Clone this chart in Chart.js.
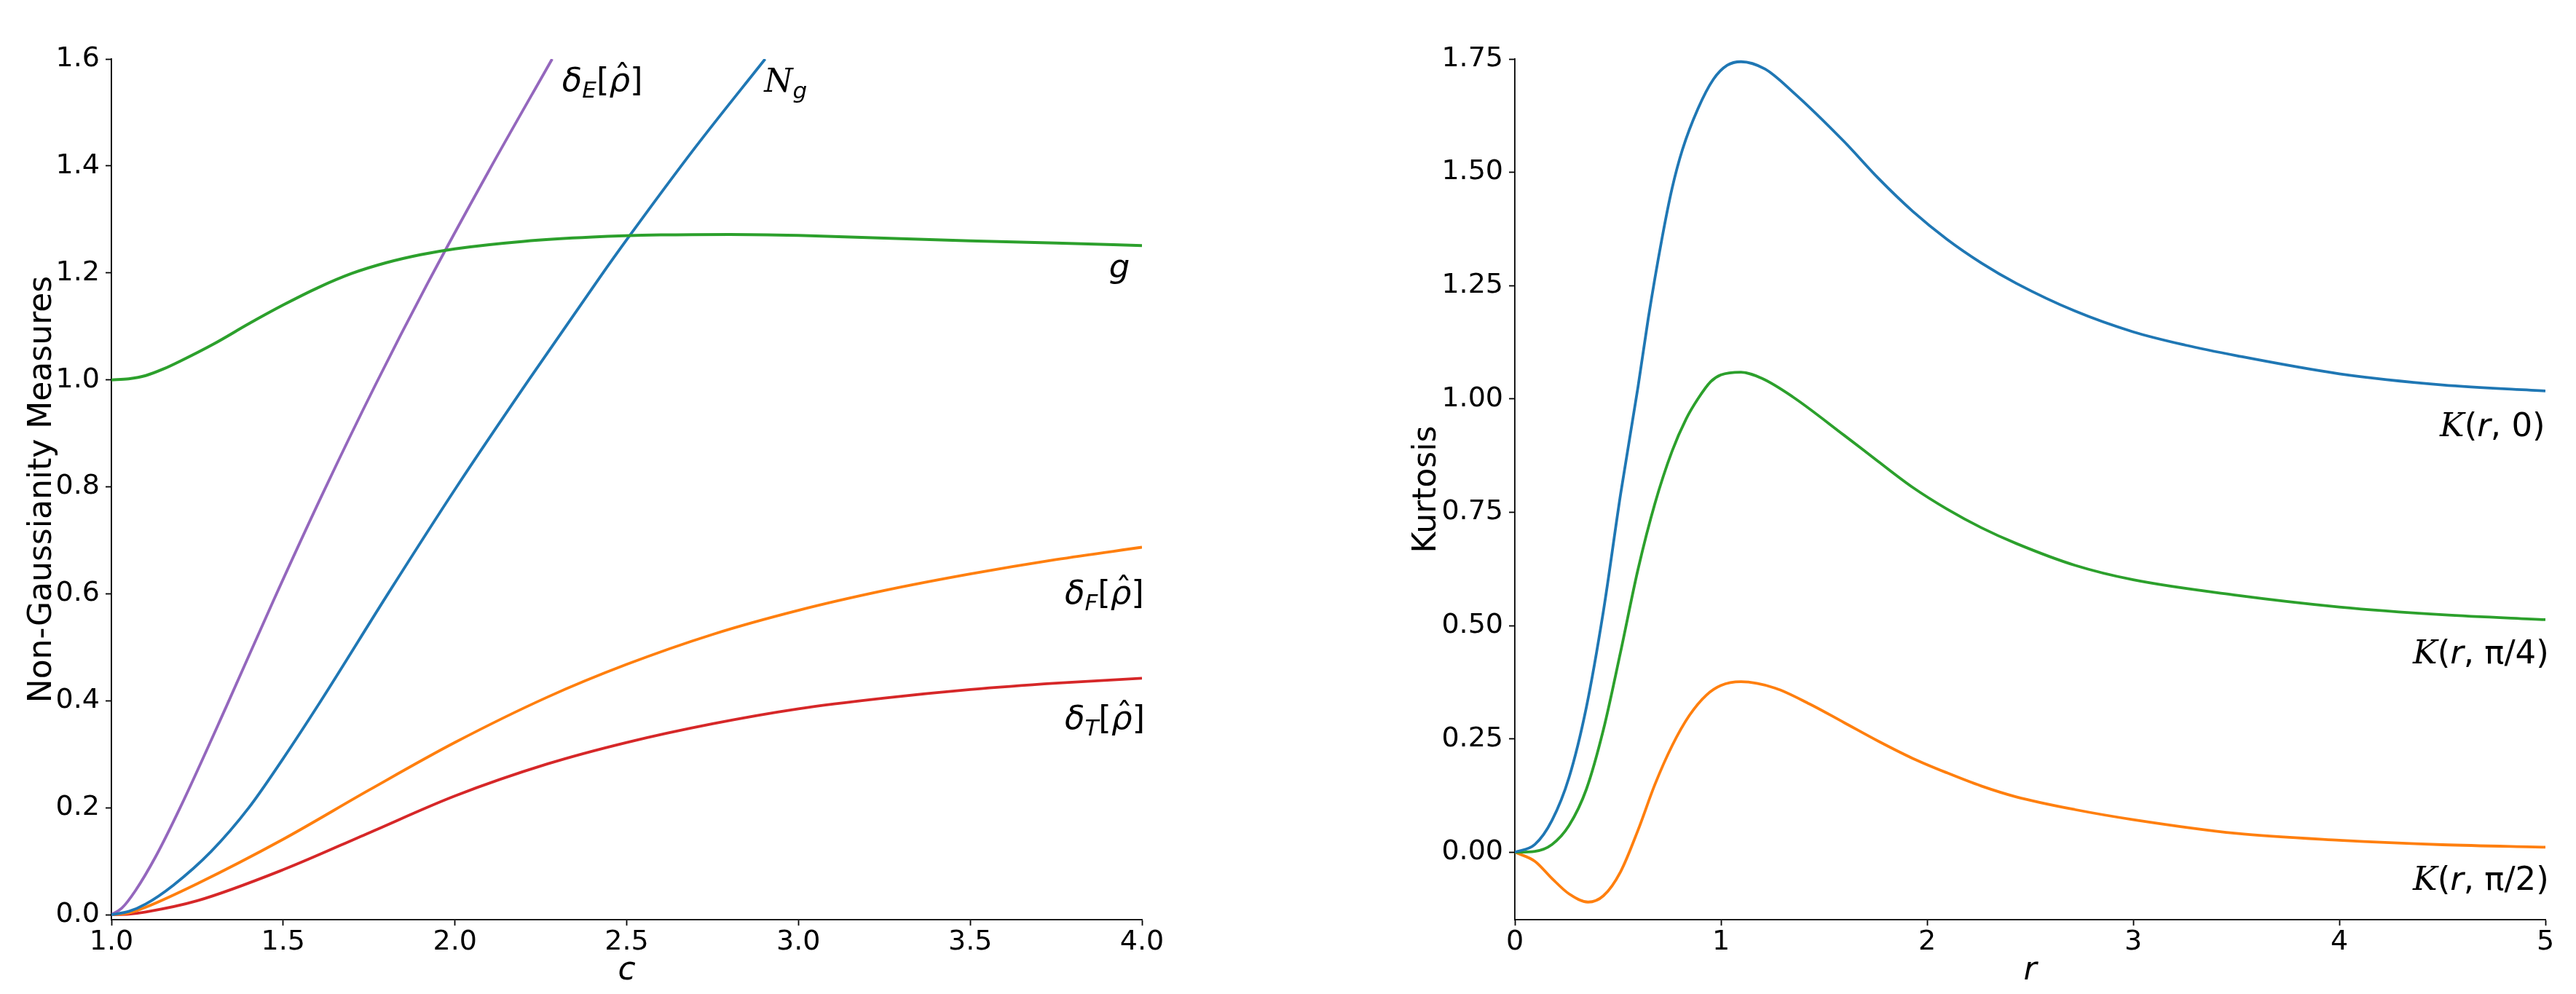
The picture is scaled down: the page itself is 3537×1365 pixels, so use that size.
<!DOCTYPE html>
<html>
<head>
<meta charset="utf-8">
<title>Non-Gaussianity measures and kurtosis</title>
<script src="https://cdn.jsdelivr.net/npm/chart.js@4.4.1/dist/chart.umd.min.js"></script>
<style>
  html, body { margin: 0; padding: 0; background: #fff; overflow: hidden; }
  .panel { position: absolute; top: 0; height: 1365px; }
  #left { left: 0; width: 1768px; }
  #right { left: 1768px; width: 1769px; }
</style>
</head>
<body>
<div class="panel" id="left"><canvas id="measuresChart"></canvas></div>
<div class="panel" id="right"><canvas id="kurtosisChart"></canvas></div>
<script>
// ===========================
// Data
// ===========================

// left panel: measures vs c
const C_TICKS = [1.0, 1.5, 2.0, 2.5, 3.0, 3.5, 4.0];
const M_TICKS = [0.0, 0.2, 0.4, 0.6, 0.8, 1.0, 1.2, 1.4, 1.6];

const deltaE_c = [1.0, 1.03, 1.07, 1.13, 1.2, 1.335, 1.47, 1.617, 1.768, 1.92, 2.098, 2.283];
const deltaE_v = [0, 0.012, 0.045, 0.11, 0.2, 0.39, 0.585, 0.79, 0.99, 1.18, 1.39, 1.6];

const ng_c = [1.0, 1.05, 1.1, 1.18, 1.29, 1.40, 1.5, 1.61, 1.805, 2.005, 2.215, 2.42, 2.5, 2.7, 2.903];
const ng_v = [0, 0.006, 0.02, 0.055, 0.118, 0.2, 0.292, 0.4, 0.6, 0.8, 1.0, 1.19, 1.262, 1.435, 1.6];

const g_c = [1.0, 1.05, 1.1, 1.15, 1.2, 1.3, 1.4, 1.5, 1.6, 1.7, 1.8, 1.9, 2.0, 2.2, 2.4, 2.6, 2.8, 3.0, 3.2, 3.5, 3.75, 4.0];
const g_v = [1.0, 1.002, 1.008, 1.02, 1.035, 1.068, 1.105, 1.140, 1.172, 1.199, 1.219, 1.234, 1.245, 1.259, 1.267, 1.271, 1.272, 1.270, 1.266, 1.260, 1.256, 1.251];

const deltaF_c = [1.0, 1.05, 1.1, 1.25, 1.5, 1.75, 2.0, 2.27, 2.5, 2.75, 3.0, 3.25, 3.5, 3.75, 4.0];
const deltaF_v = [0, 0.003, 0.014, 0.058, 0.141, 0.233, 0.322, 0.407, 0.468, 0.524, 0.569, 0.606, 0.637, 0.664, 0.687];

const deltaT_c = [1.0, 1.05, 1.1, 1.25, 1.5, 1.75, 2.0, 2.27, 2.5, 2.75, 3.0, 3.25, 3.5, 3.75, 4.0];
const deltaT_v = [0, 0.001, 0.005, 0.026, 0.084, 0.153, 0.222, 0.282, 0.322, 0.357, 0.385, 0.405, 0.421, 0.433, 0.442];

// right panel: kurtosis vs r
const R_TICKS = [0, 1, 2, 3, 4, 5];
const K_TICKS = [0.0, 0.25, 0.5, 0.75, 1.0, 1.25, 1.5, 1.75];

const k0_r = [0, 0.097, 0.18, 0.263, 0.347, 0.43, 0.513, 0.597, 0.647, 0.713, 0.763, 0.813, 0.888, 0.963, 1.03, 1.097, 1.213, 1.347, 1.597, 1.763, 1.93, 2.097, 2.263, 2.433, 2.717, 3.0, 3.25, 3.5, 4.0, 4.5, 5.0];
const k0_v = [0, 0.017, 0.07, 0.165, 0.32, 0.533, 0.79, 1.025, 1.177, 1.352, 1.465, 1.55, 1.64, 1.705, 1.736, 1.744, 1.728, 1.678, 1.568, 1.487, 1.414, 1.352, 1.3, 1.255, 1.194, 1.148, 1.119, 1.0955, 1.0555, 1.031, 1.0176];

const k4_r = [0, 0.097, 0.18, 0.263, 0.347, 0.43, 0.513, 0.597, 0.68, 0.763, 0.83, 0.888, 0.95, 1.0, 1.097, 1.2, 1.347, 1.597, 1.763, 1.93, 2.097, 2.263, 2.433, 2.717, 3.0, 3.5, 4.0, 4.5, 5.0];
const k4_v = [0, 0.002, 0.017, 0.059, 0.139, 0.271, 0.442, 0.623, 0.77, 0.885, 0.955, 1.0, 1.038, 1.053, 1.059, 1.045, 1.005, 0.92, 0.862, 0.805, 0.757, 0.716, 0.681, 0.633, 0.601, 0.567, 0.541, 0.524, 0.513];

const k2_r = [0, 0.097, 0.18, 0.263, 0.355, 0.43, 0.513, 0.597, 0.68, 0.763, 0.847, 0.93, 1.0, 1.097, 1.263, 1.43, 1.597, 1.763, 1.93, 2.097, 2.263, 2.433, 2.717, 3.0, 3.5, 4.0, 4.5, 5.0];
const k2_v = [0, -0.02, -0.058, -0.092, -0.11, -0.096, -0.043, 0.048, 0.15, 0.235, 0.302, 0.347, 0.368, 0.376, 0.362, 0.327, 0.286, 0.245, 0.207, 0.175, 0.146, 0.122, 0.094, 0.0718, 0.0415, 0.0264, 0.0165, 0.0112];

// line labels, anchored (left, baseline) at data coordinates
const LEFT_LABELS = [
    { at: [2.312, 1.54], parts: [{ t: 'δ', it: true }, { t: 'E', it: true, sub: true }, { t: '[' }, { t: 'ρ', it: true, hat: true }, { t: ']' }] },
    { at: [2.90, 1.539], parts: [{ t: 'N', cal: true }, { t: 'g', it: true, sub: true }] },
    { at: [3.904, 1.192], parts: [{ t: 'g', it: true }] },
    { at: [3.775, 0.581], parts: [{ t: 'δ', it: true }, { t: 'F', it: true, sub: true }, { t: '[' }, { t: 'ρ', it: true, hat: true }, { t: ']' }] },
    { at: [3.775, 0.347], parts: [{ t: 'δ', it: true }, { t: 'T', it: true, sub: true }, { t: '[' }, { t: 'ρ', it: true, hat: true }, { t: ']' }] },
];
const RIGHT_LABELS = [
    { at: [4.488, 0.918], parts: [{ t: 'K', cal: true }, { t: '(' }, { t: 'r', it: true }, { t: ', 0)' }] },
    { at: [4.357, 0.416], parts: [{ t: 'K', cal: true }, { t: '(' }, { t: 'r', it: true }, { t: ', π/4)' }] },
    { at: [4.357, -0.083], parts: [{ t: 'K', cal: true }, { t: '(' }, { t: 'r', it: true }, { t: ', π/2)' }] },
];

// ===========================
// Helpers
// ===========================
const BLUE = '#1f77b4', ORANGE = '#ff7f0e', GREEN = '#2ca02c', RED = '#d62728', PURPLE = '#9467bd';
const LABEL_SIZE = 45;

const points = (xs, ys) => xs.map((x, i) => ({ x, y: ys[i] }));

const line = (label, xs, ys, color, width = 3.8) => ({
    label,
    data: points(xs, ys),
    borderColor: color,
    backgroundColor: color,
    borderWidth: width,
    pointRadius: 0,
    cubicInterpolationMode: 'monotone',
    fill: false,
});

function partFont(p) {
    const size = p.sub ? Math.round(LABEL_SIZE * 0.7) : LABEL_SIZE;
    if (p.cal) return `italic ${size}px "DejaVu Serif"`;
    return `${p.it ? 'italic ' : ''}${size}px "DejaVu Sans"`;
}

function drawPart(ctx, p, x, y) {
    ctx.font = partFont(p);
    ctx.fillText(p.t, x, p.sub ? y + LABEL_SIZE * 0.2 : y);
    const w = ctx.measureText(p.t).width;
    if (p.hat) {
        ctx.font = `${LABEL_SIZE}px "DejaVu Sans"`;
        const hw = ctx.measureText('\u02C6').width;
        ctx.fillText('\u02C6', x + (w - hw) / 2 + LABEL_SIZE * 0.08, y - LABEL_SIZE * 0.1);
    }
    return w;
}

// draws the curve names next to their lines
const curveLabels = (items) => ({
    id: 'curveLabels',
    afterDatasetsDraw(chart) {
        const { ctx, scales: { x, y } } = chart;
        ctx.save();
        ctx.fillStyle = '#000';
        ctx.textAlign = 'left';
        ctx.textBaseline = 'alphabetic';
        items.forEach(item => {
            let px = x.getPixelForValue(item.at[0]);
            const py = y.getPixelForValue(item.at[1]);
            item.parts.forEach(p => { px += drawPart(ctx, p, px, py); });
        });
        ctx.restore();
    },
});

const tickFont = { family: 'DejaVu Sans', size: 38, lineHeight: 1.2 };
const titleFont = { family: 'DejaVu Sans', size: 44, lineHeight: 1.2 };

function axis(cfg) {
    return {
        type: 'linear',
        min: cfg.min,
        max: cfg.max,
        afterBuildTicks: s => { s.ticks = cfg.ticks.map(v => ({ value: v })); },
        afterFit: s => { if (cfg.width) s.width = cfg.width; if (cfg.height) s.height = cfg.height; },
        ticks: {
            callback: v => v.toFixed(cfg.digits),
            font: tickFont,
            color: '#000',
            padding: cfg.pad,
            maxRotation: 0,
            autoSkip: false,
        },
        grid: { drawOnChartArea: false, drawTicks: true, tickLength: 8, tickWidth: 1.8, color: '#000' },
        border: { display: true, color: '#000', width: 1.8 },
        title: {
            display: true,
            text: cfg.title,
            color: '#000',
            font: Object.assign({}, titleFont, cfg.italic ? { style: 'italic' } : {}),
            padding: cfg.titlePad,
        },
    };
}

function baseOptions(padding, scales) {
    return {
        responsive: true,
        maintainAspectRatio: false,
        animation: false,
        devicePixelRatio: 1,
        layout: { padding },
        plugins: { legend: { display: false }, tooltip: { enabled: false } },
        scales,
    };
}

// ===========================
// Left: non-Gaussianity measures
// ===========================
new Chart(document.getElementById('measuresChart'), {
    type: 'line',
    data: {
        datasets: [
            line('g', g_c, g_v, GREEN, 4),
            line('N_g', ng_c, ng_v, BLUE),
            line('delta_E', deltaE_c, deltaE_v, PURPLE),
            line('delta_F', deltaF_c, deltaF_v, ORANGE),
            line('delta_T', deltaT_c, deltaT_v, RED),
        ],
    },
    options: baseOptions({ left: 0, top: 81, right: 200, bottom: 0 }, {
        x: axis({ min: 1, max: 4, ticks: C_TICKS, digits: 1, pad: 0, height: 102,
                  title: 'c', italic: true, titlePad: { top: 0, bottom: 5 } }),
        y: axis({ min: -0.0095, max: 1.6, ticks: M_TICKS, digits: 1, pad: 8, width: 153,
                  title: 'Non-Gaussianity Measures', titlePad: { top: 32, bottom: 0 } }),
    }),
    plugins: [curveLabels(LEFT_LABELS)],
});

// ===========================
// Right: kurtosis
// ===========================
new Chart(document.getElementById('kurtosisChart'), {
    type: 'line',
    data: {
        datasets: [
            line('K(r,0)', k0_r, k0_v, BLUE),
            line('K(r,pi/4)', k4_r, k4_v, GREEN),
            line('K(r,pi/2)', k2_r, k2_v, ORANGE),
        ],
    },
    options: baseOptions({ left: 0, top: 81, right: 42, bottom: 0 }, {
        x: axis({ min: 0, max: 5, ticks: R_TICKS, digits: 0, pad: 0, height: 102,
                  title: 'r', italic: true, titlePad: { top: 0, bottom: 5 } }),
        y: axis({ min: -0.149, max: 1.75, ticks: K_TICKS, digits: 2, pad: 8, width: 312,
                  title: 'Kurtosis', titlePad: { top: 165, bottom: 0 } }),
    }),
    plugins: [curveLabels(RIGHT_LABELS)],
});
</script>
</body>
</html>
